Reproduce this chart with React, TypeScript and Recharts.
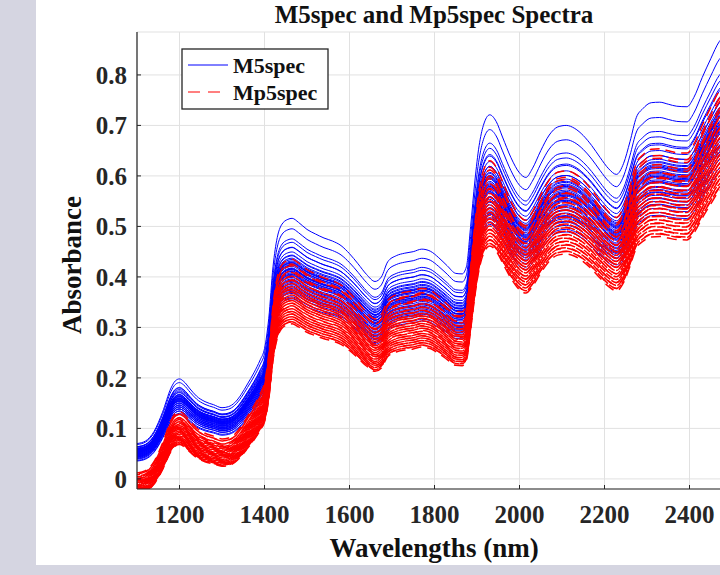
import { LineChart, Line, XAxis, YAxis, CartesianGrid } from 'recharts';

// wavelength grid (nm) and the upper-envelope M5spec spectrum
const wavelengths = [
  1100, 1120, 1140, 1160, 1180, 1190, 1200, 1210, 1225, 1240,
  1260, 1280, 1300, 1315, 1330, 1345, 1360, 1375, 1390, 1400,
  1410, 1420, 1430, 1440, 1455, 1465, 1480, 1500, 1520, 1540,
  1560, 1580, 1600, 1620, 1640, 1660, 1675, 1690, 1710, 1730,
  1750, 1770, 1790, 1810, 1830, 1850, 1865, 1875, 1885, 1895,
  1905, 1915, 1930, 1945, 1960, 1980, 2000, 2015, 2030, 2050,
  2070, 2090, 2110, 2130, 2150, 2170, 2190, 2210, 2228, 2245,
  2260, 2275, 2290, 2310, 2330, 2350, 2370, 2394, 2410, 2430,
  2450, 2470, 2490, 2500,
];
const baseProfile = [
  0.070, 0.075, 0.094, 0.132, 0.180, 0.194, 0.198, 0.193, 0.178, 0.164,
  0.153, 0.147, 0.141, 0.143, 0.151, 0.167, 0.188, 0.210, 0.236, 0.258,
  0.318, 0.420, 0.478, 0.503, 0.514, 0.516, 0.508, 0.494, 0.485, 0.477,
  0.471, 0.462, 0.446, 0.426, 0.405, 0.391, 0.400, 0.430, 0.442, 0.447,
  0.450, 0.455, 0.451, 0.438, 0.422, 0.407, 0.406, 0.420, 0.500, 0.590,
  0.660, 0.700, 0.721, 0.708, 0.677, 0.636, 0.606, 0.597, 0.614, 0.650,
  0.681, 0.697, 0.700, 0.694, 0.680, 0.660, 0.636, 0.614, 0.603, 0.625,
  0.668, 0.716, 0.733, 0.745, 0.746, 0.742, 0.738, 0.737, 0.755, 0.795,
  0.832, 0.866, 0.880, 0.884,
];

// per-sample scale / baseline shift relative to the profile (M5spec, blue)
const blueGain = [
  1.000, 0.958, 0.925, 0.908, 0.895, 0.884, 0.873, 0.864, 0.857, 0.851,
  0.846, 0.842, 0.838, 0.835, 0.832, 0.829, 0.826, 0.823, 0.820, 0.817,
  0.814, 0.811, 0.808, 0.805, 0.802, 0.799, 0.795, 0.791, 0.787, 0.783,
  0.779, 0.775, 0.770, 0.765, 0.760, 0.755, 0.750, 0.745, 0.740, 0.733,
  0.726, 0.720,
];
const blueOffset = [
  0.000, 0.001, -0.002, 0.000, -0.003, 0.002, -0.001, -0.004, 0.001, -0.002,
  -0.005, 0.000, -0.003, -0.006, -0.001, -0.004, 0.001, -0.007, -0.002, -0.005,
  -0.008, -0.003, -0.006, -0.001, -0.009, -0.004, -0.007, -0.002, -0.010, -0.005,
  -0.008, -0.011, -0.006, -0.009, -0.012, -0.007, -0.010, -0.013, -0.008, -0.011,
  -0.014, -0.015,
];

// same for Mp5spec (red, dashed)
const redGain = [
  0.950, 0.935, 0.925, 0.915, 0.905, 0.898, 0.892, 0.886, 0.880, 0.875,
  0.870, 0.865, 0.860, 0.856, 0.852, 0.848, 0.844, 0.840, 0.836, 0.832,
  0.828, 0.824, 0.820, 0.816, 0.812, 0.808, 0.804, 0.800, 0.796, 0.792,
  0.788, 0.784, 0.780, 0.776, 0.772, 0.768, 0.764, 0.760, 0.756, 0.752,
];
const redOffset = [
  -0.055, -0.057, -0.055, -0.060, -0.058, -0.062, -0.059, -0.063, -0.061, -0.065,
  -0.062, -0.066, -0.064, -0.067, -0.064, -0.068, -0.066, -0.070, -0.067, -0.071,
  -0.069, -0.072, -0.070, -0.073, -0.071, -0.075, -0.072, -0.076, -0.074, -0.077,
  -0.075, -0.078, -0.076, -0.079, -0.077, -0.080, -0.078, -0.081, -0.079, -0.081,
];

const xTicks = [1200, 1400, 1600, 1800, 2000, 2200, 2400];
const yTicks = [0, 0.1, 0.2, 0.3, 0.4, 0.5, 0.6, 0.7, 0.8];

const rows = wavelengths.map((wl, i) => {
  const row: Record<string, number> = { wl };
  blueGain.forEach((g, k) => { row[`b${k}`] = g * baseProfile[i] + (blueOffset[k] ?? 0); });
  redGain.forEach((g, k) => { row[`r${k}`] = g * baseProfile[i] + (redOffset[k] ?? 0); });
  return row;
});

const serif = "'Liberation Serif', 'Times New Roman', serif";
const ink = '#262626';
const tickFont = { fill: ink, fontSize: 25, fontWeight: 'bold', fontFamily: serif };

export default function App() {
  return (
    <div style={{ position: 'absolute', left: 0, top: 0, width: 720, height: 575, background: '#d5d5e1', overflow: 'hidden' }}>
      <div style={{ position: 'absolute', left: 36, top: 0, width: 684, height: 565, background: '#fff' }} />
      <div style={{ position: 'absolute', left: 36, top: 0 }}>
        <LineChart width={740} height={565} data={rows} margin={{ top: 32, right: 44, bottom: 0, left: 0 }}>
          <CartesianGrid stroke="#e1e1e1" />
          <XAxis
            dataKey="wl" type="number" domain={[1100, 2500]} ticks={xTicks} allowDataOverflow
            height={76} tickSize={-4} tickMargin={20} tick={tickFont}
            axisLine={{ stroke: ink, strokeWidth: 1.2 }} tickLine={{ stroke: ink }}
          />
          <XAxis
            xAxisId="top" orientation="top" dataKey="wl" type="number" domain={[1100, 2500]} ticks={xTicks}
            allowDataOverflow height={0} tickSize={-4} tick={false}
            axisLine={{ stroke: ink, strokeWidth: 1.2 }} tickLine={{ stroke: ink }}
          />
          <YAxis
            type="number" domain={[-0.02, 0.885]} ticks={yTicks} allowDataOverflow
            width={101} tickSize={-4} tickMargin={14} tick={tickFont}
            tickFormatter={(v: number) => (v === 0 ? '0' : v.toFixed(1))}
            axisLine={{ stroke: ink, strokeWidth: 1.2 }} tickLine={{ stroke: ink }}
          />
          {blueGain.map((_, k) => (
            <Line key={`b${k}`} type="monotone" dataKey={`b${k}`} stroke="#0000ff" strokeWidth={1}
              dot={false} isAnimationActive={false} />
          ))}
          {redGain.map((_, k) => (
            <Line key={`r${k}`} type="monotone" dataKey={`r${k}`} stroke="#ff0000" strokeWidth={1.5}
              strokeDasharray="10 6" strokeDashoffset={(k * 7) % 16} dot={false} isAnimationActive={false} />
          ))}
        </LineChart>
      </div>

      {/* title, axis labels and legend box */}
      <svg width={720} height={575} style={{ position: 'absolute', left: 0, top: 0, pointerEvents: 'none' }}
        fontFamily={serif} fontWeight="bold" fill="#111">
        <text x={434} y={23} textAnchor="middle" fontSize={25}>M5spec and Mp5spec Spectra</text>
        <text x={434} y={557} textAnchor="middle" fontSize={27}>Wavelengths (nm)</text>
        <text x={72} y={265} textAnchor="middle" dominantBaseline="central" fontSize={27}
          transform="rotate(-90 72 265)">Absorbance</text>
        <rect x={182} y={49} width={146} height={60} fill="#fff" stroke={ink} strokeWidth={1.3} />
        <line x1={188} x2={228} y1={65} y2={65} stroke="#0000ff" strokeWidth={1} />
        <text x={233} y={73} fontSize={22}>M5spec</text>
        <line x1={188} x2={228} y1={92} y2={92} stroke="#ff0000" strokeWidth={1.2} strokeDasharray="12 8" />
        <text x={233} y={100} fontSize={22}>Mp5spec</text>
      </svg>
    </div>
  );
}
